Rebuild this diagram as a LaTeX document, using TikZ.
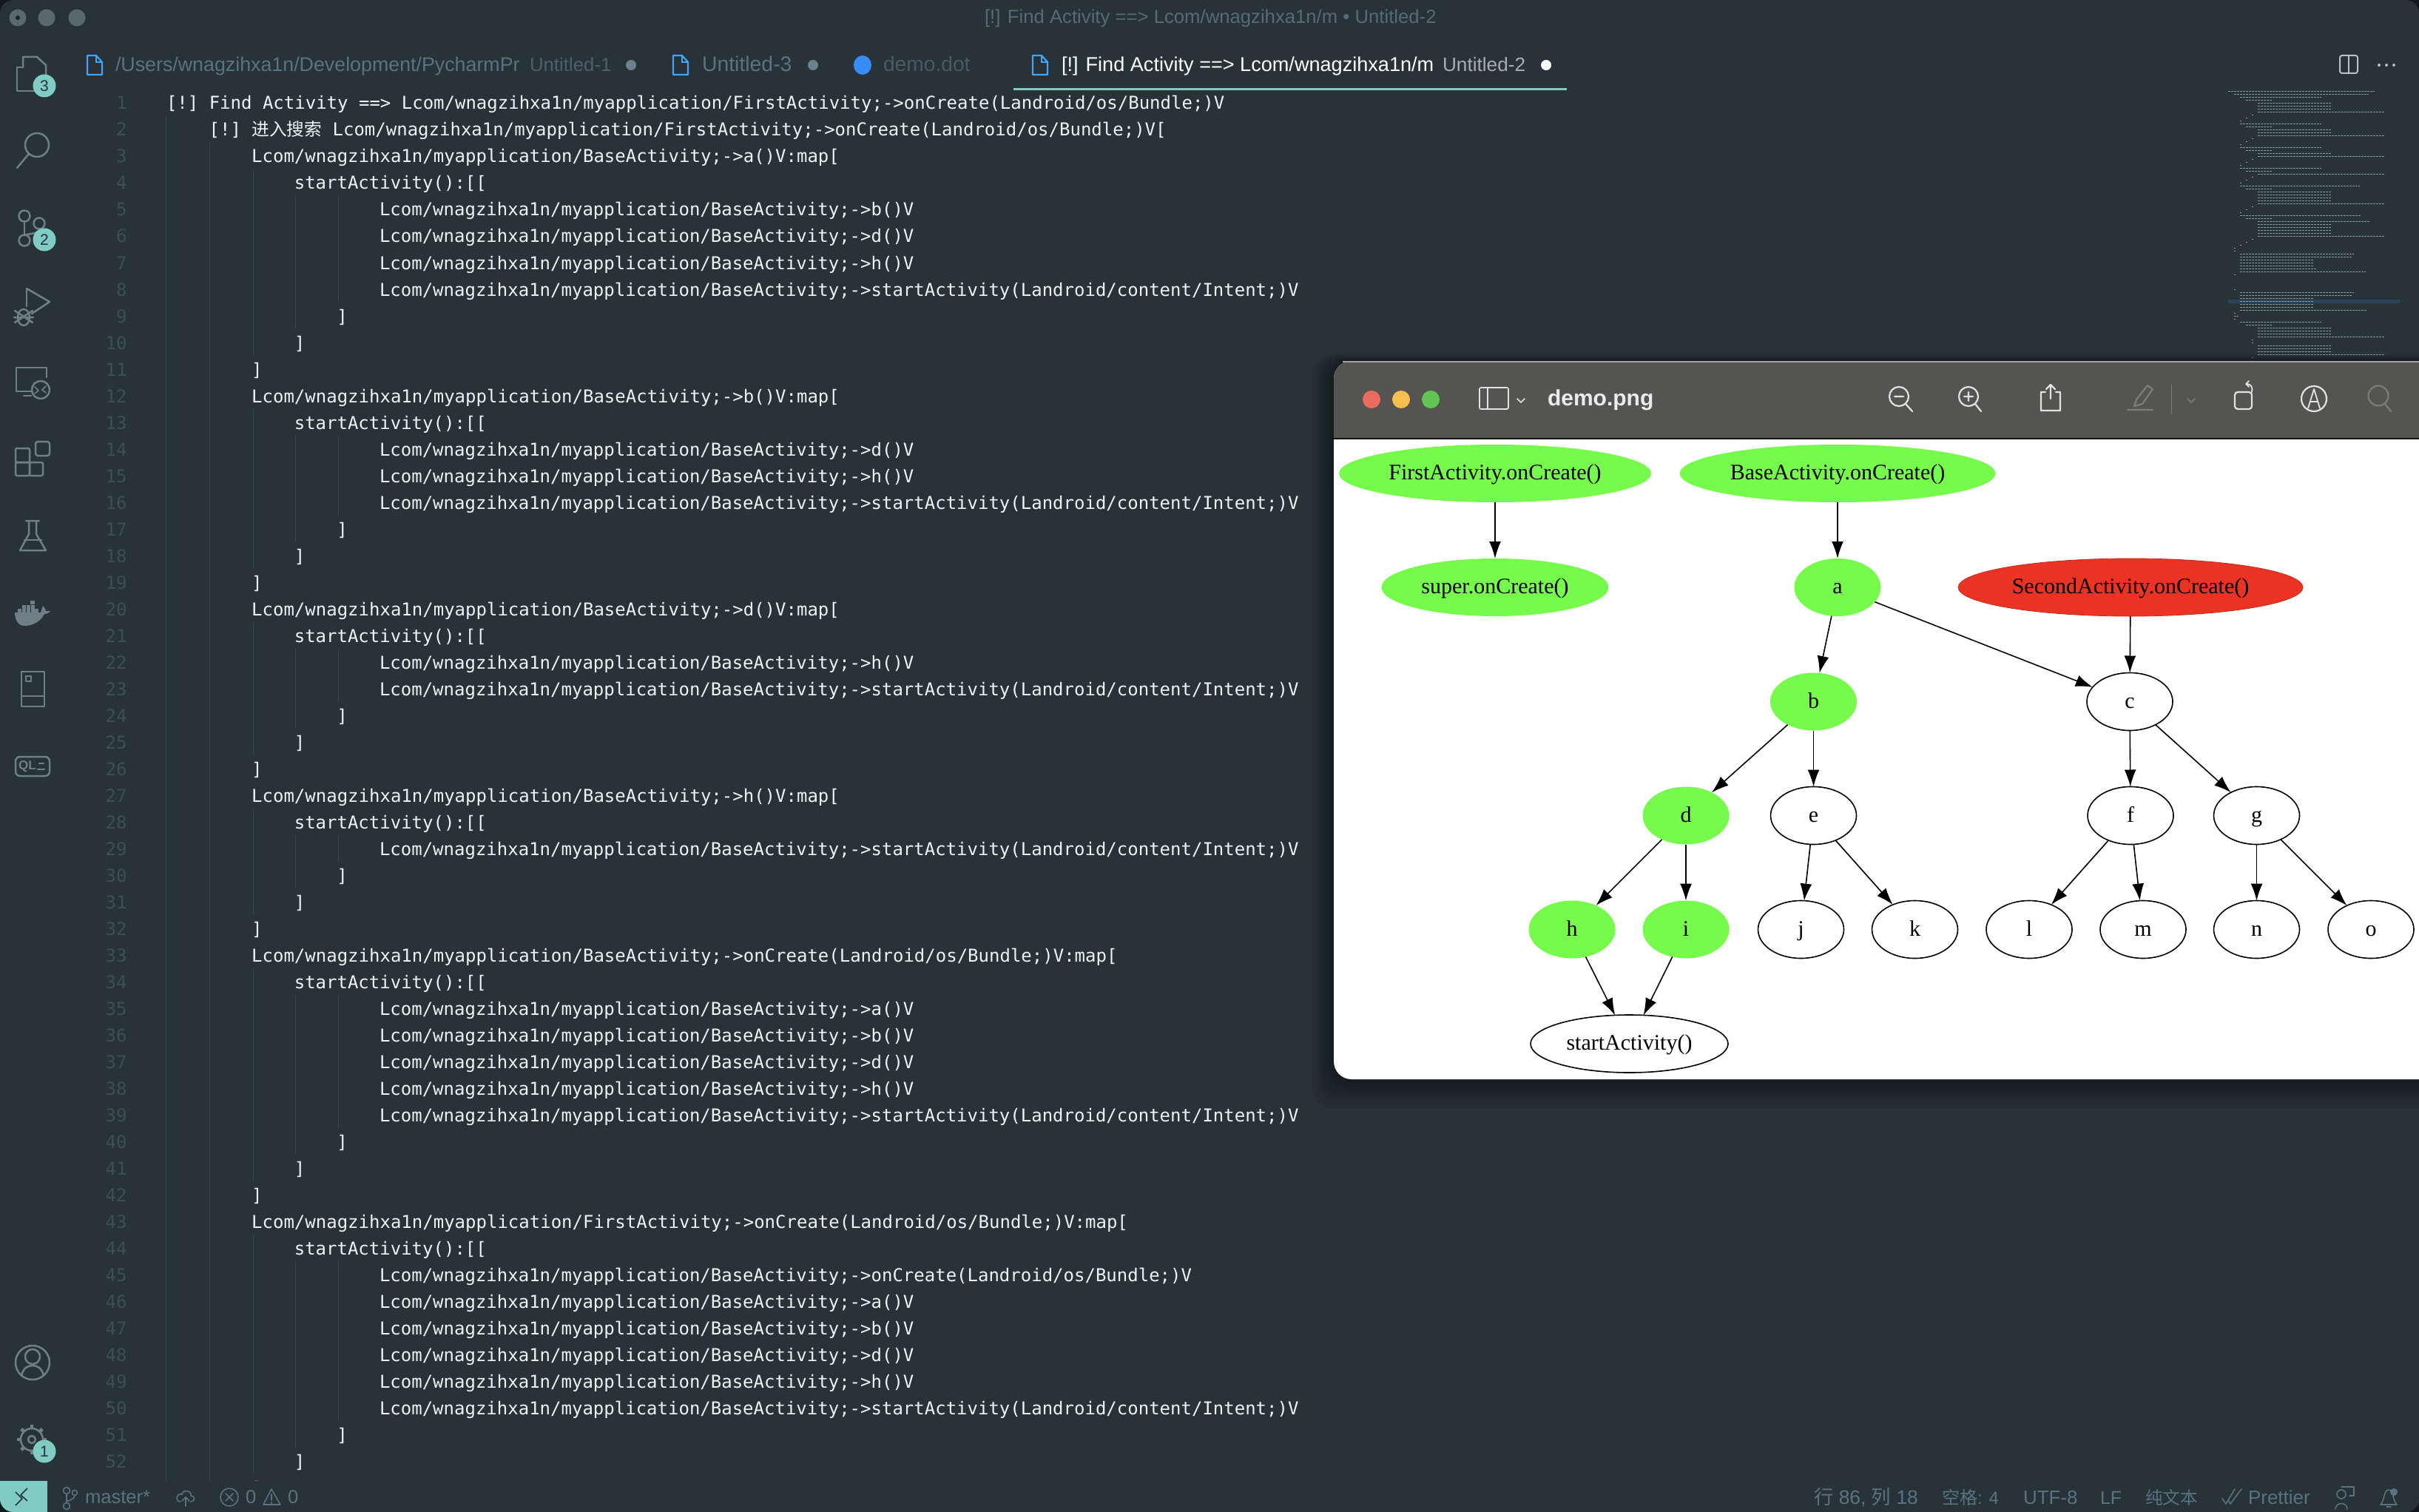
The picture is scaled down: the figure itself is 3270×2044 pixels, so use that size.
\documentclass[tikz,border=0pt]{standalone}
\usepackage{fontspec}
\usetikzlibrary{arrows.meta,shapes.geometric}
\setmainfont{Liberation Sans}
\setmonofont{DejaVu Sans Mono}
\newfontfamily\cjk{Noto Sans CJK SC}
\newfontfamily\timesf{Liberation Serif}
\definecolor{edbg}{HTML}{273239}
\definecolor{outer}{HTML}{12181C}
\definecolor{codefg}{HTML}{EAF6F6}
\definecolor{lnumc}{HTML}{3E4E57}
\definecolor{guide}{HTML}{36444C}
\definecolor{dimtx}{HTML}{5B7380}
\definecolor{titletx}{HTML}{566B77}
\definecolor{teal}{HTML}{80CBC4}
\definecolor{iconc}{HTML}{707F87}
\definecolor{fileblue}{HTML}{42A5F5}
\definecolor{tbar}{HTML}{545452}
\definecolor{gvgreen}{HTML}{76FB4D}
\definecolor{gvred}{HTML}{EB3323}
\definecolor{pvicon}{HTML}{E2E2E2}
\definecolor{pvdim}{HTML}{7C7C7A}
\definecolor{mmc}{HTML}{8B999F}
\definecolor{mmhl}{HTML}{2C4358}
\definecolor{lightr}{HTML}{EC6A5E}
\definecolor{lighty}{HTML}{F4BF4F}
\definecolor{lightg}{HTML}{61C554}
\newcommand{\fs}[1]{\fontsize{#1pt}{#1pt}\selectfont}
\tikzset{
  x=0.5pt,y=-0.5pt,
  codetext/.style={anchor=base west,inner sep=0pt,outer sep=0pt,text=codefg,font=\ttfamily\fs{12}},
  lnum/.style={anchor=base east,inner sep=0pt,text=lnumc,font=\ttfamily\fs{12}},
  guideline/.style={draw=guide,line width=0.5pt},
  mmline/.style={draw=mmc,line width=0.6pt,dash pattern=on 1.6pt off 0.4pt},
  ui/.style={anchor=base west,inner sep=0pt,outer sep=0pt},
  aicon/.style={draw=iconc,line width=1.25pt,line join=round,line cap=round},
  pv/.style={draw=pvicon,line width=1.1pt,line cap=round,line join=round},
  pvd/.style={draw=pvdim,line width=1.1pt,line cap=round,line join=round},
  stic/.style={draw=dimtx,line width=0.8pt,line cap=round,line join=round},
  gvbase/.style={ellipse,inner sep=0pt,outer sep=0pt,minimum height=39pt,text height=11.6pt,text depth=3pt,font=\timesf\fs{15},text=black},
  gvwhite/.style={gvbase,draw=black,line width=0.8pt,fill=white},
  gvg/.style={gvbase,fill=gvgreen},
  gvr/.style={gvbase,fill=gvred,draw=gvred!85!black,line width=0.4pt},
  gvedge/.style={draw=black,line width=0.8pt,-{Latex[length=11.5pt,width=8pt]}},
}
\newcommand{\cl}[3]{\node[codetext] (L#1) at ({225+14.4*#2},{148+36*(#1-1)}) {#3};}
\def\BA{Lcom/wnagzihxa1n/myapplication/BaseActivity;->}
\def\FA{Lcom/wnagzihxa1n/myapplication/FirstActivity;->}
\def\SA{startActivity(Landroid/content/Intent;)V}
\def\OC{onCreate(Landroid/os/Bundle;)V}
\newcommand{\blk}[2]{%
  \draw[guideline] (342,{121+36*#1}) -- (342,{121+36*(#2+1)});
  \draw[guideline] (399,{121+36*(#1+1)}) -- (399,{121+36*#2});
  \draw[guideline] (457,{121+36*(#1+1)}) -- (457,{121+36*(#2-1)});
}
\newcommand{\fileicon}[2]{%
  \begin{scope}[shift={(#1,#2)}]
    \draw[fileblue,line width=1.1pt,line join=round] (0,0) -- (12,0) -- (20,9) -- (20,26) -- (0,26) -- cycle;
    \draw[fileblue,line width=0.9pt] (12,0) -- (12,9) -- (20,9);
  \end{scope}}
\newcommand{\badge}[3]{%
  \fill[teal] (#1,#2) circle[radius=15.5];
  \node[inner sep=0pt,font=\fs{10.5},text=edbg] (badge#3) at (#1,#2) {#3};}
\begin{document}
\begin{tikzpicture}
\useasboundingbox (0,0) rectangle (3270,2044);
\fill[outer] (0,0) rectangle (3270,2044);
\begin{scope}
\clip[rounded corners=9pt] (0,0) rectangle (3270,2044);
\fill[edbg] (0,0) rectangle (3270,2044);

% traffic lights (unfocused)
\fill[iconc!70!edbg] (24,24) circle[radius=11.5];
\fill[edbg!70!black] (24,24) circle[radius=3];
\fill[iconc!70!edbg] (63,24) circle[radius=11.5];
\fill[iconc!70!edbg] (104,24) circle[radius=11.5];
\node[ui,text=titletx,font=\fs{12.85}] (wintitle) at (1331,32) {[!] Find Activity ==> Lcom/wnagzihxa1n/m • Untitled-2};

% tabs
\fileicon{118}{75}
\node[ui,text=dimtx,font=\fs{13.4}] (tab1) at (156,97) {/Users/wnagzihxa1n/Development/PycharmPr};
\node[ui,text=titletx!80!edbg,font=\fs{12.9}] (tab1b) at (716,97) {Untitled-1};
\fill[dimtx!90!white] (853,88) circle[radius=7];
\fileicon{910}{75}
\node[ui,text=dimtx,font=\fs{14.2}] (tab2) at (949,97) {Untitled-3};
\fill[dimtx!90!white] (1099,88) circle[radius=7];
\fill[fileblue!85!blue] (1166,88) ellipse[x radius=12,y radius=13];
\node[ui,text=titletx!70!edbg,font=\fs{14.1}] (tab3) at (1194,97) {demo.dot};
\fileicon{1396}{75}
\node[ui,text=white,font=\fs{13.55}] (tab4) at (1435,97) {[!] Find Activity ==> Lcom/wnagzihxa1n/m};
\node[ui,text=white!60!edbg,font=\fs{13.1}] (tab4b) at (1950,97) {Untitled-2};
\fill[white] (2090,88) circle[radius=7];
\fill[teal] (1370,119.5) rectangle (2118,122.5);
% editor layout buttons
\draw[draw=white!70!edbg,line width=1pt,rounded corners=1.5pt] (3163,75) rectangle (3187,99);
\draw[draw=white!70!edbg,line width=1pt] (3175,75) -- (3175,99);
\foreach \xx in {3216,3226,3236} \fill[white!70!edbg] (\xx,88) circle[radius=2];

% indent guides
\draw[guideline] (224.5,157) -- (224.5,2002);
\draw[guideline] (283,193) -- (283,2002);
\blk{3}{9}\blk{12}{17}\blk{20}{24}\blk{27}{30}\blk{33}{40}\blk{43}{51}

% line numbers
\foreach \n in {1,...,52} \node[lnum] (N\n) at (172,{148+36*(\n-1)}) {\n};

% code
\cl{1}{0}{[!] Find Activity ==> \FA\OC}
\cl{2}{4}{[!] {\cjk\fs{11.85}进入搜索} \FA\OC[}
\cl{3}{8}{\BA a()V:map[}
\cl{4}{12}{startActivity():[[}
\cl{5}{20}{\BA b()V}
\cl{6}{20}{\BA d()V}
\cl{7}{20}{\BA h()V}
\cl{8}{20}{\BA\SA}
\cl{9}{16}{]}
\cl{10}{12}{]}
\cl{11}{8}{]}
\cl{12}{8}{\BA b()V:map[}
\cl{13}{12}{startActivity():[[}
\cl{14}{20}{\BA d()V}
\cl{15}{20}{\BA h()V}
\cl{16}{20}{\BA\SA}
\cl{17}{16}{]}
\cl{18}{12}{]}
\cl{19}{8}{]}
\cl{20}{8}{\BA d()V:map[}
\cl{21}{12}{startActivity():[[}
\cl{22}{20}{\BA h()V}
\cl{23}{20}{\BA\SA}
\cl{24}{16}{]}
\cl{25}{12}{]}
\cl{26}{8}{]}
\cl{27}{8}{\BA h()V:map[}
\cl{28}{12}{startActivity():[[}
\cl{29}{20}{\BA\SA}
\cl{30}{16}{]}
\cl{31}{12}{]}
\cl{32}{8}{]}
\cl{33}{8}{\BA\OC:map[}
\cl{34}{12}{startActivity():[[}
\cl{35}{20}{\BA a()V}
\cl{36}{20}{\BA b()V}
\cl{37}{20}{\BA d()V}
\cl{38}{20}{\BA h()V}
\cl{39}{20}{\BA\SA}
\cl{40}{16}{]}
\cl{41}{12}{]}
\cl{42}{8}{]}
\cl{43}{8}{\FA\OC:map[}
\cl{44}{12}{startActivity():[[}
\cl{45}{20}{\BA\OC}
\cl{46}{20}{\BA a()V}
\cl{47}{20}{\BA b()V}
\cl{48}{20}{\BA d()V}
\cl{49}{20}{\BA h()V}
\cl{50}{20}{\BA\SA}
\cl{51}{16}{]}
\cl{52}{12}{]}
\cl{53}{8}{]}

% minimap
\fill[mmhl] (3012,405) rectangle (3244,409.5);
\foreach \ra/\ia/\la in {0/0/99,1/4/91,
 2/8/55,3/12/18,4/20/50,5/20/50,6/20/50,7/20/86,8/16/1,9/12/1,10/8/1,
 11/8/55,12/12/18,13/20/50,14/20/50,15/20/86,16/16/1,17/12/1,18/8/1,
 19/8/55,20/12/18,21/20/50,22/20/86,23/16/1,24/12/1,25/8/1,
 26/8/55,27/12/18,28/20/86,29/16/1,30/12/1,31/8/1,
 32/8/81,33/12/18,34/20/50,35/20/50,36/20/50,37/20/50,38/20/86,39/16/1,40/12/1,41/8/1,
 42/8/82,43/12/18,44/20/76,45/20/50,46/20/50,47/20/50,48/20/50,49/20/86,50/16/1,51/12/1,52/8/1,
 53/4/1,54/4/1,55/8/77,56/8/76,57/8/50,58/8/50,59/8/50,60/8/52,61/8/85,62/4/1,
 67/4/1,68/8/77,69/8/76,70/8/50,71/8/50,72/8/50,73/8/50,74/8/86,75/4/1,76/4/3,77/4/1,
 78/8/55,79/12/18,80/20/50,81/20/50,82/20/50,83/20/86,84/16/1,85/16/1,
 86/20/50,87/20/50,88/20/50,89/20/86,90/16/1}
 { \draw[mmline] ({3012+2*\ia},{123.3+4*\ra}) -- ++({2*\la},0); }

% activity bar icons
% files
\draw[aicon] (31,91) -- (31,77) -- (50,77) -- (62,88) -- (62,110);
\draw[aicon] (31,91) -- (23,91) -- (23,123) -- (46,123);
\badge{60}{116}{3}
% search
\draw[aicon] (50,196) ellipse[x radius=16,y radius=16];
\draw[aicon] (39,208) -- (23,227);
% source control
\draw[aicon] (33,292) circle[radius=7.5];
\draw[aicon] (53,302) circle[radius=7.5];
\draw[aicon] (33,325) circle[radius=7.5];
\draw[aicon] (33,300) -- (33,317);
\draw[aicon] (53,310) .. controls (53,316) and (38,316) .. (33,318);
\badge{60}{324}{2}
% debug
\draw[aicon] (36,390) -- (67,408) -- (43,424);
\draw[aicon] (36,390) -- (36,414);
\draw[aicon] (32,429) ellipse[x radius=8,y radius=11];
\draw[aicon] (20,420) -- (44,436) (44,420) -- (20,436) (19,429) -- (45,429);
% remote
\draw[aicon] (22,497) -- (22,529) -- (42,529) (63,497) -- (63,510) (22,497) -- (63,497);
\draw[aicon] (32,535) -- (42,535);
\draw[aicon] (55,527) circle[radius=12];
\draw[aicon,line width=0.8pt] (47,523) -- (52,528) -- (47,532) (62,522) -- (57,527) -- (62,531);
% extensions
\draw[aicon,rounded corners=1pt] (21,606) rectangle (40,625);
\draw[aicon,rounded corners=1pt] (21,625) rectangle (40,643);
\draw[aicon,rounded corners=1pt] (40,625) rectangle (58,643);
\draw[aicon,rounded corners=1.5pt] (48,597) rectangle (67,616);
% flask
\draw[aicon] (35,704) -- (53,704) (39,704) -- (39,722) -- (27,744) -- (62,744) -- (49,722) -- (49,704);
\draw[aicon] (33,730) -- (56,730);
% docker
\fill[iconc] (20,828) -- (55,828) .. controls (57,824) and (56,822) .. (58,819) .. controls (60,821) and (62,824) .. (62,826) -- (68,826) .. controls (65,830) and (62,830) .. (60,830) .. controls (54,842) and (42,846) .. (33,846) .. controls (24,846) and (20,837) .. (20,828) -- cycle;
\foreach \xx in {24,30,36,42,47} \fill[iconc] (\xx,823) rectangle +(5,4.5);
\foreach \xx in {30,36,42} \fill[iconc] (\xx,817.5) rectangle +(5,5);
\fill[iconc] (41,812) rectangle +(6,5);
% book
\draw[aicon,line cap=butt] (29,908) rectangle (60,955);
\draw[aicon,line cap=butt] (29,941) -- (60,941);
\draw[aicon,line cap=butt,line width=0.8pt] (35,914) rectangle (42,921);
% QL
\draw[aicon,rounded corners=3pt] (21,1023) rectangle (67,1049);
\node[inner sep=0pt,font=\bfseries\fs{8.5},text=iconc] (qlicon) at (37,1036) {QL};
\draw[aicon] (53,1032) -- (59,1032) (51,1040) -- (60,1040);
% account
\draw[aicon] (44,1842) circle[radius=23];
\draw[aicon] (44,1834) circle[radius=10];
\draw[aicon] (29,1860) .. controls (31,1850) and (37,1846) .. (44,1846) .. controls (51,1846) and (57,1850) .. (59,1860);
% gear
\draw[aicon] (43,1946) circle[radius=15];
\foreach \aa in {0,45,...,315} \draw[iconc,line width=2.4pt] (43,1946) ++(\aa:15) -- ++(\aa:5);
\draw[aicon] (43,1946) circle[radius=5];
\badge{60}{1962}{1}

% status bar
\fill[edbg] (0,2002) rectangle (3270,2044);
\fill[teal] (0,2002) rectangle (64,2044);
\draw[edbg,line width=0.8pt,line join=round] (21,2017) -- (30,2026) -- (21,2035) (37,2012) -- (28,2021);
\draw[edbg,line width=0.8pt] (28,2021) -- (37,2029);
\draw[stic] (90,2015) circle[radius=4.5] (90,2036) circle[radius=4.5] (101,2018) circle[radius=3.5] (90,2020) -- (90,2031) (101,2022) .. controls (101,2027) and (93,2028) .. (90,2030);
\node[ui,text=dimtx,font=\fs{12.8}] (branch) at (115,2032) {master*};
\draw[stic] (244,2030) .. controls (236,2030) and (238,2018) .. (246,2020) .. controls (248,2012) and (260,2016) .. (258,2022) .. controls (264,2022) and (264,2030) .. (258,2030);
\draw[stic] (251,2036) -- (251,2024) (246,2029) -- (251,2024) -- (256,2029);
\draw[stic] (310,2024) circle[radius=12];
\draw[stic] (305,2019) -- (315,2029) (315,2019) -- (305,2029);
\node[ui,text=dimtx,font=\fs{12.8}] (errs) at (332,2032) {0};
\draw[stic] (367,2013) -- (379,2034) -- (356,2034) -- cycle (367,2020) -- (367,2028) (367,2031) -- (367,2032);
\node[ui,text=dimtx,font=\fs{12.8}] (warns) at (389,2032) {0};
\node[ui,text=dimtx,font=\fs{13.2}] (st1) at (2452,2033) {{\cjk 行} 86, {\cjk 列} 18};
\node[ui,text=dimtx,font=\fs{12}] (st2) at (2625,2033) {{\cjk 空格}: 4};
\node[ui,text=dimtx,font=\fs{13}] (st3) at (2735,2033) {UTF-8};
\node[ui,text=dimtx,font=\fs{12.5}] (st4) at (2839,2033) {LF};
\node[ui,text=dimtx,font=\cjk\fs{11.8}] (st5) at (2900,2033) {纯文本};
\draw[stic] (3004,2026) -- (3009,2033) -- (3021,2013) (3012,2028) -- (3015,2033) -- (3030,2013);
\node[ui,text=dimtx,font=\fs{13}] (st6) at (3039,2033) {Prettier};
\draw[stic] (3165,2020) circle[radius=6] (3157,2040) .. controls (3157,2030) and (3173,2030) .. (3173,2040) (3165,2010) -- (3182,2010) -- (3182,2022) -- (3176,2022);
\draw[stic] (3218,2034) -- (3240,2034) .. controls (3234,2028) and (3236,2014) .. (3229,2014) .. controls (3222,2014) and (3224,2028) .. (3218,2034) (3226,2037) -- (3232,2037);
\fill[dimtx] (3236,2017) circle[radius=5];

% preview window shadow
\foreach \g in {30,26,...,2}
  \fill[black,opacity=0.055,rounded corners=14pt] ({1803-\g},{488-0.3*\g}) rectangle ({3290+\g},{1459+1.3*\g});

% preview window
\fill[white,rounded corners=12pt] (1803,488) rectangle (3320,1459);
\fill[tbar,rounded corners=12pt] (1803,488) rectangle (3320,640);
\fill[white] (1803,593) rectangle (3320,660);
\draw[draw=white!45!tbar,line width=0.6pt] (1815,489) -- (3270,489);
\draw[draw=black!75!tbar,line width=0.7pt] (1803,593) -- (3270,593);
\fill[lightr] (1854,540) circle[radius=12];
\fill[lighty] (1894,540) circle[radius=12];
\fill[lightg] (1934,540) circle[radius=12];
\draw[pv,line width=0.8pt,rounded corners=1pt] (2000,524) rectangle (2039,553);
\draw[pv,line width=0.8pt] (2011,524) -- (2011,553);
\draw[pv,line width=0.8pt] (2051,539) -- (2056,544) -- (2061,539);
\node[ui,text=white!92!black,font=\bfseries\fs{15}] (pvtitle) at (2092,548) {demo.png};
\draw[pv] (2567,536) circle[radius=13] (2576,546) -- (2585,556) (2561,536) -- (2573,536);
\draw[pv] (2661,536) circle[radius=13] (2670,546) -- (2678,556) (2655,536) -- (2667,536) (2661,530) -- (2661,542);
\draw[pv] (2765,530) -- (2759,530) -- (2759,555) -- (2785,555) -- (2785,530) -- (2779,530) (2772,539) -- (2772,520) (2766,526) -- (2772,520) -- (2778,526);
\draw[pvd] (2903,521) -- (2910,526) -- (2896,546) -- (2885,549) -- (2888,540) -- cycle (2876,554) -- (2910,554);
\draw[pvd,line width=0.5pt] (2935,520) -- (2935,560);
\draw[pvd,line width=0.8pt] (2957,539) -- (2962,544) -- (2967,539);
\draw[pv,rounded corners=2pt] (3021,530) rectangle (3044,553);
\draw[pv,line width=0.9pt] (3044,530) .. controls (3046,520) and (3040,519) .. (3036,519) (3040,515) -- (3036,519) -- (3040,523);
\draw[pv] (3128,539) circle[radius=17];
\draw[pv,line width=0.9pt] (3120,552) -- (3128,526) -- (3136,552) (3123,543) -- (3133,543);
\draw[pvd] (3215,535) circle[radius=13.5] (3224,546) -- (3232,556);

% graph nodes
\node[gvg,minimum width=211pt] (first) at (2021,640) {FirstActivity.onCreate()};
\node[gvg,minimum width=213.5pt] (base) at (2484,640) {BaseActivity.onCreate()};
\node[gvg,minimum width=153.5pt] (super) at (2021,794) {super.onCreate()};
\node[gvg,minimum width=58.5pt] (a) at (2484,794) {a};
\node[gvr,minimum width=233pt] (second) at (2880,794) {SecondActivity.onCreate()};
\node[gvg,minimum width=58.5pt] (b) at (2451.5,948.5) {b};
\node[gvwhite,minimum width=58pt] (c) at (2879,948.5) {c};
\node[gvg,minimum width=58.5pt] (d) at (2279,1102.5) {d};
\node[gvwhite,minimum width=58pt] (e) at (2451.5,1102.5) {e};
\node[gvwhite,minimum width=58pt] (f) at (2880,1102.5) {f};
\node[gvwhite,minimum width=58pt] (g) at (3050.5,1102.5) {g};
\node[gvg,minimum width=58.5pt] (h) at (2125,1256.5) {h};
\node[gvg,minimum width=58.5pt] (i) at (2279,1256.5) {i};
\node[gvwhite,minimum width=58pt] (j) at (2434.5,1256.5) {j};
\node[gvwhite,minimum width=58pt] (k) at (2588.5,1256.5) {k};
\node[gvwhite,minimum width=58pt] (l) at (2743,1256.5) {l};
\node[gvwhite,minimum width=58pt] (m) at (2897,1256.5) {m};
\node[gvwhite,minimum width=58pt] (n) at (3050.5,1256.5) {n};
\node[gvwhite,minimum width=58pt] (o) at (3205,1256.5) {o};
\node[gvwhite,minimum width=133.5pt] (start) at (2202.5,1411) {startActivity()};

% graph edges
\foreach \sa/\ta in {first/super,base/a,a/b,a/c,second/c,b/d,b/e,c/f,c/g,d/h,d/i,e/j,e/k,f/l,f/m,g/n,g/o,h/start,i/start}
  \draw[gvedge] (\sa) -- (\ta);
\end{scope}
\end{tikzpicture}
\end{document}
